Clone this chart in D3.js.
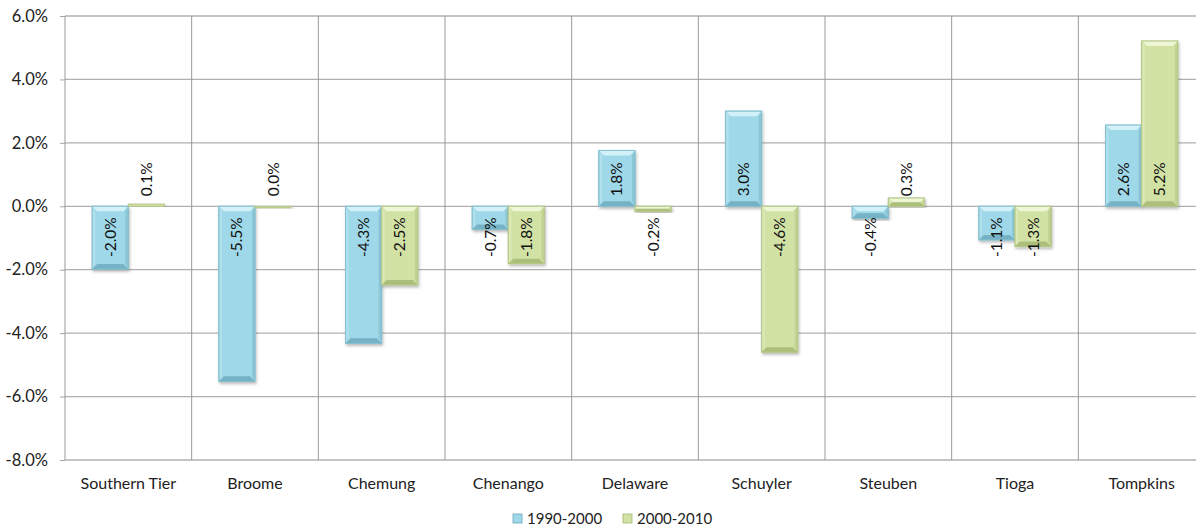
<!DOCTYPE html>
<html>
<head>
<meta charset="utf-8">
<script src="https://cdn.jsdelivr.net/npm/d3@7"></script>
<style>
  body { margin: 0; background: #fff; }
  svg { display: block; font-family: Lato, "Open Sans", sans-serif; }
</style>
</head>
<body>
<script>
const counties = ["Southern Tier", "Broome", "Chemung", "Chenango", "Delaware", "Schuyler", "Steuben", "Tioga", "Tompkins"];
const growth90s = [-1.98, -5.52, -4.32, -0.73, 1.76, 3.0, -0.38, -1.06, 2.56];
const growth00s = [0.07, 0.0, -2.48, -1.81, -0.16, -4.6, 0.26, -1.27, 5.21];
const seriesNames = ["1990-2000", "2000-2010"];
const yTicks = [-8, -6, -4, -2, 0, 2, 4, 6];

const box = { upper: 16, lower: 71, left: 65, right: -9 },
  fullW = 1196, fullH = 531,
  width = fullW - box.left - box.right,
  height = fullH - box.upper - box.lower;

const palette = [
  { face: "#9fd8e8", light: "#d2f1f8", dark: "#6aa9bb", edge: "#86c1d0" },
  { face: "#d2e2a5", light: "#eef6d6", dark: "#a3b76f", edge: "#b6c98a" }
];

// hyphen minus, as in the original
const pct = v => v.toFixed(1) + "%";

const svg = d3.select("body").append("svg")
  .attr("width", fullW)
  .attr("height", fullH);

const defs = svg.append("defs");
defs.append("filter").attr("id", "shadow")
  .attr("x", "-20%").attr("y", "-20%").attr("width", "140%").attr("height", "140%")
  .append("feDropShadow")
  .attr("dx", 1).attr("dy", 2).attr("stdDeviation", 1.5)
  .attr("flood-color", "#000").attr("flood-opacity", 0.28);

const g = svg.append("g").attr("transform", `translate(${box.left},${box.upper})`);

const x = d3.scaleBand().domain(counties).range([0, width]).paddingInner(0).paddingOuter(0);
const xInner = d3.scaleBand().domain([0, 1]).range([x.bandwidth() * 0.215, x.bandwidth() * 0.785]);
const y = d3.scaleLinear().domain([-8, 6]).range([height, 0]);

// horizontal grid + y axis
const yAxis = d3.axisLeft(y).tickValues(yTicks).tickSize(5).tickPadding(12)
  .tickFormat(pct);
const ya = g.append("g").call(yAxis);
ya.select(".domain").remove();
ya.selectAll(".tick line").attr("stroke", "#a6a6a6");
ya.selectAll(".tick text").style("font-size", "16.5px").attr("fill", "#222")
  .style("font-family", "Lato, sans-serif");

g.append("g").selectAll("line").data(yTicks).join("line")
  .attr("x1", 0).attr("x2", width)
  .attr("y1", d => y(d)).attr("y2", d => y(d))
  .attr("stroke", "#b0b0b0").attr("stroke-width", 1.3);

// vertical grid
const vlines = counties.map(c => x(c)).concat([width]);
g.append("g").selectAll("line").data(vlines).join("line")
  .attr("x1", d => d).attr("x2", d => d)
  .attr("y1", 0).attr("y2", height)
  .attr("stroke", "#9a9a9a").attr("stroke-width", 1);

// x labels
g.append("g").selectAll("text").data(counties).join("text")
  .attr("x", d => x(d) + x.bandwidth() / 2)
  .attr("y", height + 29)
  .attr("text-anchor", "middle")
  .style("font-size", "16px").attr("fill", "#222")
  .text(d => d);

// bars
const bars = [];
counties.forEach((c, i) => {
  [growth90s[i], growth00s[i]].forEach((v, s) => bars.push({ county: c, s, v }));
});

const barG = g.append("g").selectAll("g").data(bars).join("g")
  .attr("transform", d => `translate(${x(d.county) + xInner(d.s)},0)`);

const bw = xInner.bandwidth();
const bev = 5;

barG.each(function(d) {
  const el = d3.select(this);
  const c = palette[d.s];
  const top = Math.min(y(d.v), y(0));
  const h = Math.max(Math.abs(y(d.v) - y(0)), 1.5);
  const b = Math.min(bev, h / 2, bw / 2);
  el.append("rect")
    .attr("x", 0).attr("y", top).attr("width", bw).attr("height", h)
    .attr("fill", c.face).attr("stroke", c.edge).attr("stroke-width", 1)
    .attr("filter", "url(#shadow)");
  if (h > 3) {
    const L = 0, R = bw, T = top, B = top + h;
    el.append("polygon").attr("fill", c.light)
      .attr("points", `${L},${T} ${R},${T} ${R - b},${T + b} ${L + b},${T + b}`);
    el.append("polygon").attr("fill", c.light).attr("opacity", 0.35)
      .attr("points", `${L},${T} ${L + b * 0.6},${T + b} ${L + b * 0.6},${B - b} ${L},${B}`);
    el.append("polygon").attr("fill", c.dark).attr("opacity", 0.35)
      .attr("points", `${R},${T} ${R},${B} ${R - b * 0.6},${B - b} ${R - b * 0.6},${T + b}`);
    el.append("polygon").attr("fill", c.dark).attr("opacity", 0.8)
      .attr("points", `${L},${B} ${R},${B} ${R - b},${B - b} ${L + b},${B - b}`);
    el.append("rect").attr("x", 0).attr("y", top).attr("width", bw).attr("height", h)
      .attr("fill", "none").attr("stroke", c.edge).attr("stroke-width", 1);
  }
});

// data labels, rotated, anchored at the baseline
barG.append("text")
  .attr("transform", d => `translate(${bw / 2 + 5.5},${d.v >= 0 ? y(0) - 10 : y(0) + 11}) rotate(-90)`)
  .attr("text-anchor", d => d.v >= 0 ? "start" : "end")
  .style("font-size", "15.5px").attr("fill", "#111")
  .text(d => pct(d.v));

// legend
const legend = svg.append("g").attr("transform", "translate(513,514)");
const legendX = [0, 110];
seriesNames.forEach((n, i) => {
  const lg = legend.append("g").attr("transform", `translate(${legendX[i]},0)`);
  lg.append("rect").attr("x", 0).attr("y", 0).attr("width", 9).attr("height", 9)
    .attr("fill", palette[i].face).attr("stroke", palette[i].dark).attr("stroke-width", 0.8);
  lg.append("text").attr("x", 14).attr("y", 10)
    .style("font-size", "15px").attr("fill", "#222").text(n);
});
</script>
</body>
</html>
